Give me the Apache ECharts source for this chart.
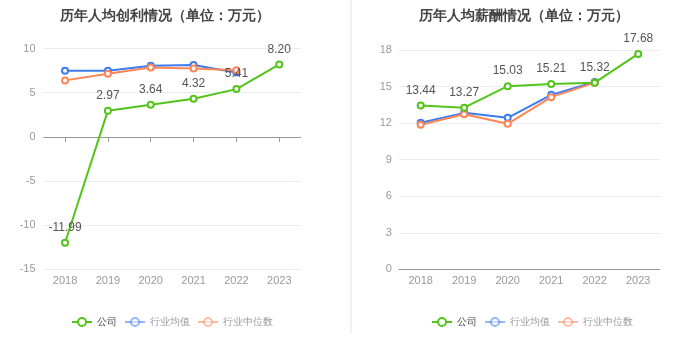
<!DOCTYPE html>
<html><head><meta charset="utf-8">
<script src="https://cdn.jsdelivr.net/npm/echarts@6/dist/echarts.min.js"></script>
<style>html,body{margin:0;padding:0;background:#fff}#c{width:700px;height:359px}</style>
</head><body><div id="c"></div>
<script>
var years = ['2018','2019','2020','2021','2022','2023'];
var profitCompany = [-11.99, 2.97, 3.64, 4.32, 5.41, 8.20];
var profitAvg = [7.5, 7.5, 8.05, 8.15, 7.3, null];
var profitMedian = [6.4, 7.15, 7.85, 7.75, 7.55, null];
var salaryCompany = [13.44, 13.27, 15.03, 15.21, 15.32, 17.68];
var salaryAvg = [12.03, 12.84, 12.43, 14.32, 15.38, null];
var salaryMedian = [11.87, 12.73, 11.94, 14.13, 15.32, null];
var profitTicks = {min: -15, max: 10, interval: 5};
var salaryTicks = {min: 0, max: 18, interval: 3};
var names = ['公司', '行业均值', '行业中位数'];
var colors = ['#52c41a', '#3d7bf0', '#ff8556'];

var chart = echarts.init(document.getElementById('c'));
var axisLabelStyle = {color: '#999', fontSize: 11};
var splitStyle = {lineStyle: {color: '#e8ebf2'}};

function legendData() {
  return names.map(function (n, i) {
    if (i === 0) return {name: n, textStyle: {color: '#444'}};
    return {name: n, itemStyle: {opacity: 0.55}, lineStyle: {opacity: 0.55}, textStyle: {color: '#999'}};
  });
}
function mkSeries(name, data, idx, gi, withLabel) {
  return {
    name: name, type: 'line', data: data,
    xAxisIndex: gi === 0 ? 0 : 2, yAxisIndex: gi,
    symbol: 'emptyCircle', symbolSize: 6,
    lineStyle: {width: 2, color: colors[idx]},
    itemStyle: {color: colors[idx], borderColor: colors[idx], borderWidth: 1.5},
    label: withLabel ? {show: true, position: 'top', color: '#555', fontSize: 12,
      formatter: function (p) { return p.value.toFixed(2); }} : {show: false},
    z: withLabel ? 3 : 2
  };
}

chart.setOption({
  animation: false,
  title: [
    {text: '历年人均创利情况（单位：万元）', left: 55, top: 4,
     textStyle: {fontSize: 14.3, fontWeight: 'bold', color: '#444'}},
    {text: '历年人均薪酬情况（单位：万元）', left: 414, top: 4,
     textStyle: {fontSize: 14.3, fontWeight: 'bold', color: '#444'}}
  ],
  legend: [
    {left: 66, top: 312, itemWidth: 20, itemHeight: 10, itemGap: 7,
     textStyle: {fontSize: 10}, data: legendData()},
    {left: 426, top: 312, itemWidth: 20, itemHeight: 10, itemGap: 7,
     textStyle: {fontSize: 10}, data: legendData()}
  ],
  graphic: [{type: 'line', shape: {x1: 351, y1: 0, x2: 351, y2: 333},
    style: {stroke: '#f2f2f2', lineWidth: 2}}],
  grid: [
    {left: 43.6, right: 399.3, top: 48.6, bottom: 89.7},
    {left: 398.9, right: 40, top: 50, bottom: 89.7}
  ],
  xAxis: [
    {type: 'category', data: years, gridIndex: 0, position: 'bottom',
     axisLine: {onZero: true, lineStyle: {color: '#999'}},
     axisTick: {show: true, interval: 0, alignWithLabel: true, length: 5, lineStyle: {color: '#999'}},
     axisLabel: {show: false}},
    {type: 'category', data: years, gridIndex: 0, position: 'bottom',
     axisLine: {show: false, onZero: false}, axisTick: {show: false},
     axisLabel: Object.assign({margin: 6}, axisLabelStyle)},
    {type: 'category', data: years, gridIndex: 1,
     axisLine: {lineStyle: {color: '#999'}},
     axisTick: {alignWithLabel: true, length: 5, lineStyle: {color: '#999'}},
     axisLabel: Object.assign({margin: 6}, axisLabelStyle)}
  ],
  yAxis: [
    {type: 'value', gridIndex: 0, min: profitTicks.min, max: profitTicks.max, interval: profitTicks.interval,
     axisLine: {show: false}, axisTick: {show: false},
     axisLabel: Object.assign({margin: 8}, axisLabelStyle), splitLine: splitStyle},
    {type: 'value', gridIndex: 1, min: salaryTicks.min, max: salaryTicks.max, interval: salaryTicks.interval,
     axisLine: {show: false}, axisTick: {show: false},
     axisLabel: Object.assign({margin: 7}, axisLabelStyle), splitLine: splitStyle}
  ],
  series: [
    mkSeries(names[1], profitAvg, 1, 0, false),
    mkSeries(names[2], profitMedian, 2, 0, false),
    mkSeries(names[0], profitCompany, 0, 0, true),
    mkSeries(names[1], salaryAvg, 1, 1, false),
    mkSeries(names[2], salaryMedian, 2, 1, false),
    mkSeries(names[0], salaryCompany, 0, 1, true)
  ]
});
</script></body></html>
